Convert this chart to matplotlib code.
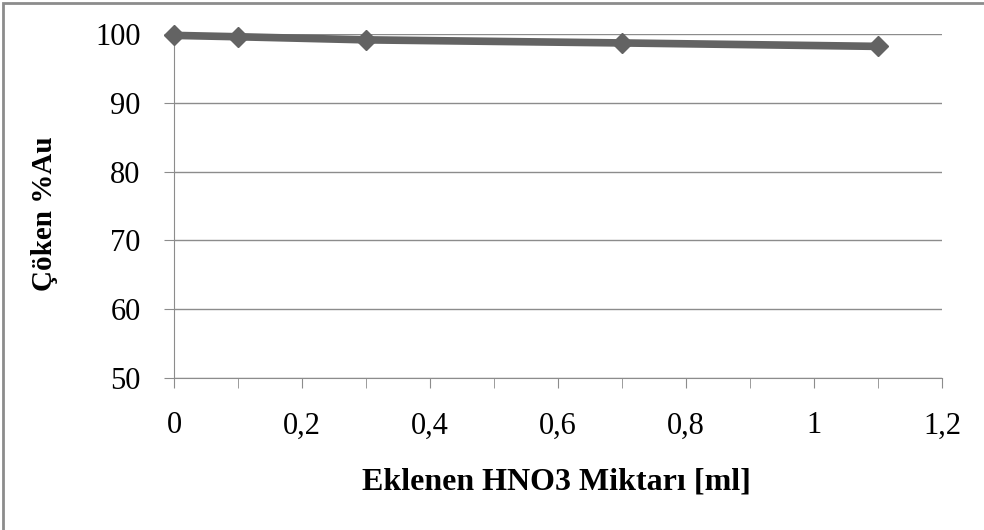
import matplotlib
matplotlib.use("Agg")
import matplotlib.pyplot as plt
from matplotlib.patches import Rectangle
from matplotlib.ticker import MultipleLocator, FuncFormatter

x_vals = [0, 0.1, 0.3, 0.7, 1.1]
y_vals = [99.8, 99.6, 99.15, 98.7, 98.2]
x_ticks = [0, 0.2, 0.4, 0.6, 0.8, 1.0, 1.2]
y_ticks = [50, 60, 70, 80, 90, 100]
x_label = "Eklenen HNO3 Miktarı [ml]"
y_label = "Çöken %Au"

plt.rcParams['font.family'] = ['Liberation Serif', 'DejaVu Serif']

fig = plt.figure(figsize=(9.84, 5.30), dpi=100)
ax = fig.add_axes([174/984, 1-378/530, (942-174)/984, (378-34)/530])

fig.patches.append(Rectangle((3/984, -0.1), 1.2, 1.1 - 3/530, transform=fig.transFigure,
                             fill=False, edgecolor='#8c8c8c', linewidth=2))

ax.plot(x_vals, y_vals, color='#636363', linewidth=5.5, marker='D', markersize=10,
        zorder=3, clip_on=False)

ax.set_xlim(0, 1.2)
ax.set_ylim(50, 100)
ax.set_xticks(x_ticks)
ax.xaxis.set_minor_locator(MultipleLocator(0.1))
ax.set_yticks(y_ticks)
ax.xaxis.set_major_formatter(FuncFormatter(lambda v, p: ('%g' % round(v, 2)).replace('.', ',')))
ax.grid(axis='y', color='#8c8c8c', linewidth=1)
for s in ['top', 'right']:
    ax.spines[s].set_visible(False)
ax.spines['left'].set_color('#8c8c8c')
ax.spines['bottom'].set_color('#8c8c8c')
ax.tick_params(axis='x', which='both', direction='out', length=7, color='#8c8c8c', labelsize=22, pad=17)
ax.tick_params(axis='y', direction='out', length=7, color='#8c8c8c', labelsize=22, pad=17)
ax.set_axisbelow(True)

fig.text(556/984, 1-482/530, x_label, ha='center', va='center', fontsize=23, fontweight='bold')
fig.text(45/984, 1-214/530, y_label, ha='center', va='center', fontsize=21, fontweight='bold', rotation=90)

fig.savefig("out.png", dpi=100)
